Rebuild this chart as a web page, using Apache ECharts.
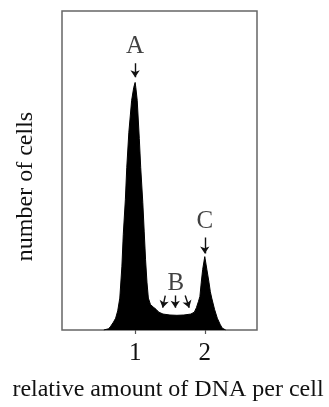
<!DOCTYPE html>
<html>
<head>
<meta charset="utf-8">
<script src="https://cdn.jsdelivr.net/npm/echarts@6/dist/echarts.min.js"></script>
<style>
    html, body { margin: 0; padding: 0; background: #fff; }
    #graph { width: 329px; height: 407px; }
</style>
</head>
<body>
<div id="graph"></div>
<script>
"use strict"

// relative DNA amount (x) and number of cells (y, arbitrary 0-100)
const dnaAmount = [0.55, 0.62, 0.65, 0.69, 0.72, 0.75, 0.78, 0.81, 0.83, 0.86, 0.88, 0.91, 0.95, 0.98, 1.00,
    1.01, 1.03, 1.06, 1.08, 1.11, 1.13, 1.15, 1.17, 1.19, 1.22, 1.26, 1.30, 1.34, 1.40, 1.50, 1.60, 1.70, 1.80,
    1.85, 1.88, 1.91, 1.93, 1.95, 1.97, 2.00, 2.03, 2.06, 2.08, 2.10, 2.14, 2.18, 2.22, 2.25, 2.30];
const cellCount = [0, 0.4, 1.2, 2.5, 3.7, 6, 10, 20, 30, 41, 51, 62, 72, 76, 77.6,
    76, 72, 60, 51, 40, 31, 22, 15, 10, 8, 7.2, 6.5, 5.6, 5.0, 4.7, 4.6, 4.7, 5.0,
    5.6, 7, 9, 10.5, 15, 19, 23, 19, 15, 12, 10, 6.5, 3.7, 1.8, 0.6, 0];
const xTicks = [1, 2];

// annotation letters [x, y, text] and arrows [x1, y1, x2, y2]
const letters = [[1.0, 88.8, "A"], [1.586, 14.6, "B"], [2.0, 34, "C"]];
const arrows = [
    [1.0, 83.6, 1.0, 79.2],
    [1.433, 10.8, 1.396, 7.0],
    [1.576, 10.8, 1.576, 7.0],
    [1.719, 10.8, 1.776, 7.0],
    [2.0, 29.0, 2.0, 24.0]
];

const serif = "'Liberation Serif', 'DejaVu Serif', serif";
const myChart = echarts.init(document.getElementById("graph"), null, { renderer: "canvas" });

const option = {
    animation: false,
    backgroundColor: "#fff",
    grid: {
        left: 62, top: 11, width: 195, height: 321,
        show: true, borderColor: "#666", borderWidth: 1.5, backgroundColor: "transparent"
    },
    xAxis: {
        type: "value",
        min: -0.05, max: 2.75,
        name: "relative amount of DNA per cell",
        nameLocation: "middle",
        nameGap: 48,
        nameTextStyle: { fontFamily: serif, fontSize: 24, color: "#111", padding: [0, 0, 0, 17] },
        axisLine: { show: false },
        axisTick: { show: true, inside: false, length: 4, customValues: xTicks, lineStyle: { color: "#555", width: 1.2 } },
        axisLabel: { show: true, customValues: xTicks, margin: 11, fontFamily: serif, fontSize: 25, color: "#111" },
        splitLine: { show: false }
    },
    yAxis: {
        type: "value",
        min: 0, max: 100,
        name: "number of cells",
        nameLocation: "middle",
        nameRotate: 90,
        nameGap: 24,
        nameTextStyle: { fontFamily: serif, fontSize: 24, color: "#111", padding: [0, 32, 0, 0] },
        axisLine: { show: false },
        axisTick: { show: false },
        axisLabel: { show: false },
        splitLine: { show: false }
    },
    series: [
        {
            type: "line",
            data: dnaAmount.map((x, i) => [x, cellCount[i]]),
            symbol: "none",
            lineStyle: { color: "#000", width: 1 },
            areaStyle: { color: "#000", opacity: 1 },
            z: 2
        },
        {
            type: "scatter",
            data: letters.map(l => ({ value: [l[0], l[1]], name: l[2] })),
            symbolSize: 0,
            label: {
                show: true, position: "inside", formatter: "{b}",
                fontFamily: serif, fontSize: 25, color: "#111"
            },
            z: 3
        },
        {
            type: "lines",
            coordinateSystem: "cartesian2d",
            data: arrows.map(a => ({ coords: [[a[0], a[1]], [a[2], a[3]]] })),
            symbol: ["none", "arrow"],
            symbolSize: 7,
            lineStyle: { color: "#111", width: 1.4, opacity: 1 },
            z: 3
        }
    ]
};
myChart.setOption(option);
</script>
</body>
</html>
